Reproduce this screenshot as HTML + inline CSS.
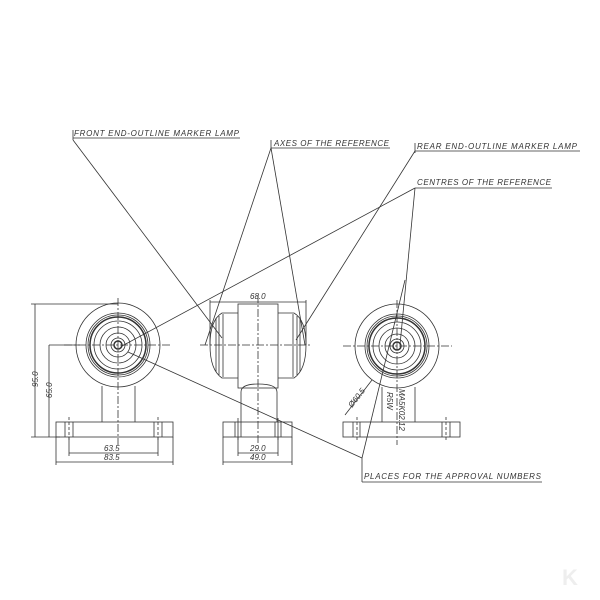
<!DOCTYPE html><html><head><style>body{margin:0;background:#fff}svg{display:block}text{font-family:"Liberation Sans",sans-serif;font-style:italic;font-size:8px;fill:#333}</style></head><body>
<svg width="600" height="600" viewBox="0 0 600 600" fill="none" stroke="#333" stroke-width="0.8">
<text x="74" y="136" stroke="none" textLength="165">FRONT END-OUTLINE MARKER LAMP</text>
<line x1="73" y1="138" x2="240" y2="138"/><line x1="73" y1="130" x2="73" y2="140"/>
<text x="274" y="146" stroke="none" textLength="115">AXES OF THE REFERENCE</text>
<line x1="271" y1="148" x2="390" y2="148"/><line x1="271" y1="140" x2="271" y2="150"/>
<text x="417" y="149" stroke="none" textLength="160">REAR END-OUTLINE MARKER LAMP</text>
<line x1="415" y1="151" x2="580" y2="151"/><line x1="415" y1="143" x2="415" y2="153"/>
<text x="417" y="185" stroke="none" textLength="134">CENTRES OF THE REFERENCE</text>
<line x1="415" y1="188" x2="552" y2="188"/>
<text x="364" y="479" stroke="none" textLength="177">PLACES FOR THE APPROVAL NUMBERS</text>
<line x1="362" y1="482" x2="542" y2="482"/><line x1="362" y1="458" x2="362" y2="482"/>
<line x1="73" y1="140" x2="222" y2="338"/>
<line x1="271" y1="148" x2="205" y2="345"/><line x1="271" y1="148" x2="305" y2="345"/>
<line x1="415" y1="151" x2="296" y2="340"/>
<line x1="415" y1="188" x2="122" y2="346"/><line x1="415" y1="188" x2="400" y2="345"/>
<line x1="362" y1="458" x2="128" y2="352"/><line x1="362" y1="458" x2="405" y2="280"/>
<g>
<circle cx="118" cy="345" r="42"/><circle cx="118" cy="345" r="32"/><circle cx="118" cy="345" r="30"/><circle cx="118" cy="345" r="28" stroke-width="1.5"/><circle cx="118" cy="345" r="24"/><circle cx="118" cy="345" r="18"/><circle cx="118" cy="345" r="12"/><circle cx="118" cy="345" r="7"/><circle cx="118" cy="345" r="4" stroke-width="1.5"/>
<path d="M102 386 V422 M135 386 V422"/>
<rect x="56" y="422" width="117" height="15"/>
<path d="M69 417 V440 M158 417 V440" stroke-dasharray="3 2"/>
<path d="M65 422 V437 M73 422 V437 M154 422 V437 M162 422 V437"/>
<path d="M64 345 H172 M118 298 V445" stroke-dasharray="8 2 2 2"/>
<path d="M31 304 H118 M35 304 V437 M31 437 H60 M49 345 V437 M49 345 H80"/>
<path d="M69 437 V456 M158 437 V456 M69 453 H158 M56 437 V465 M173 437 V465 M56 462 H173"/>
<text x="-387" y="38" transform="rotate(-90)" stroke="none">95.0</text>
<text x="-398" y="52" transform="rotate(-90)" stroke="none">65.0</text>
<text x="104" y="451" stroke="none">63.5</text><text x="104" y="460" stroke="none">83.5</text>
</g>
<g>
<rect x="238" y="304" width="40" height="84"/>
<path d="M238 313 H222 Q210 320 210 345 Q210 370 222 378 H238"/>
<path d="M278 313 H294 Q306 320 306 345 Q306 370 294 378 H278"/>
<path d="M216 318 V372 M219 316 V375 M223 314 V377 M297 316 V375 M293 314 V377 M300 318 V372"/>
<path d="M241 422 V392 Q241 384 258 384 Q277 384 277 392 V422"/>
<rect x="223" y="422" width="69" height="15"/>
<path d="M238 418 V440 M278 418 V440 M235 422 V437 M241 422 V437 M275 422 V437 M281 422 V437"/>
<path d="M200 345 H312 M258 295 V445" stroke-dasharray="8 2 2 2"/>
<path d="M210 300 V345 M306 300 V345 M210 302 H306"/>
<text x="250" y="299" stroke="none">68.0</text>
<path d="M238 437 V456 M278 437 V456 M238 453 H278 M223 437 V465 M292 437 V465 M223 462 H292"/>
<text x="250" y="451" stroke="none">29.0</text><text x="250" y="460" stroke="none">49.0</text>
</g>
<g>
<circle cx="397" cy="346" r="42"/><circle cx="397" cy="346" r="32"/><circle cx="397" cy="346" r="30"/><circle cx="397" cy="346" r="28" stroke-width="1.5"/><circle cx="397" cy="346" r="24"/><circle cx="397" cy="346" r="18"/><circle cx="397" cy="346" r="12"/><circle cx="397" cy="346" r="7"/><circle cx="397" cy="346" r="4" stroke-width="1.5"/>
<path d="M382 387 V422 M415 387 V422"/>
<rect x="343" y="422" width="117" height="15"/>
<path d="M357 417 V440 M446 417 V440" stroke-dasharray="3 2"/>
<path d="M353 422 V437 M360 422 V437 M442 422 V437 M450 422 V437"/>
<path d="M343 346 H452 M397 300 V445" stroke-dasharray="8 2 2 2"/>
<line x1="345" y1="415" x2="372" y2="380"/>
<text x="0" y="0" transform="translate(352,408) rotate(-52)" stroke="none">Ø60.5</text>
<text x="0" y="0" transform="translate(399,389) rotate(90)" stroke="none">MA5K02.12</text>
<text x="0" y="0" transform="translate(387,392) rotate(90)" stroke="none">R5W</text>
</g>
<text x="562" y="585" stroke="none" style="font-size:22px;font-weight:bold;font-style:normal;fill:#eee">K</text>
</svg></body></html>
